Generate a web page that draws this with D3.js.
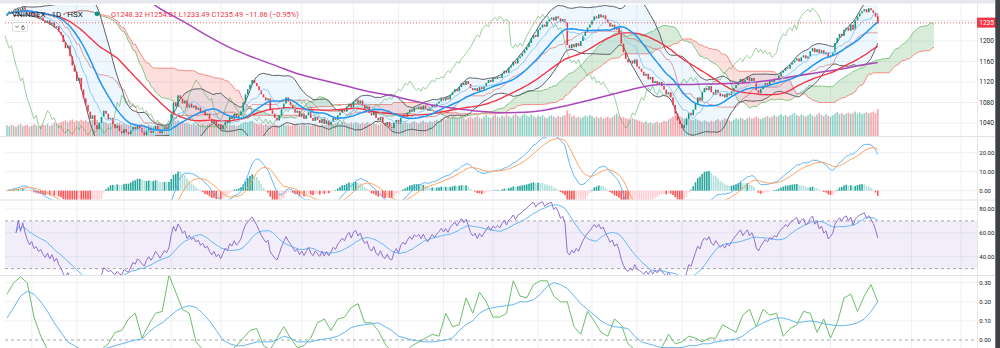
<!DOCTYPE html>
<html>
<head>
<meta charset="utf-8">
<script src="https://cdn.jsdelivr.net/npm/d3@7"></script>
<style>
  html, body { margin: 0; padding: 0; background: #fff; overflow: hidden; }
  svg { display: block; }
  text { font-family: Roboto, "Liberation Sans", "DejaVu Sans", sans-serif; }
</style>
</head>
<body>
<svg id="chart" width="1000" height="348"></svg>
<script>
// ---- Daily VNINDEX closes (HSX) ----
const closes = [
  1252,1258,1254,1260,1256,1263,1259,1266,1261,
  1256,1252,1255,1248,1250,1244,1246,1240,1236,
  1240,1232,1236,1226,1229,1218,1212,
  1198,1186,1191,1170,1152,
  1140,1122,1128,1105,1088,
  1075,1062,1048,1055,1036,1028,
  1040,1052,1064,1058,1047,1050,
  1038,1030,1035,1024,1020,1028,1022,
  1018,1025,1032,1027,1035,1030,1022,1016,1024,1029,1021,1026,1034,1028,1020,1025,1031,1027,
  1035,1058,1080,1072,1094,1088,1078,1084,1070,
  1078,1070,1074,1066,1070,1060,1064,1055,1058,1048,1040,1046,1034,1038,1028,
  1036,1045,1040,1052,1048,1058,1050,1055,1062,
  1080,1096,1106,1115,1124,1118,1112,
  1104,1096,1090,1084,1088,1065,1058,1050,1045,1055,1068,1078,1090,
  1082,1075,1068,1060,1064,1052,1058,1048,1055,1062,1050,1044,1052,1046,1040,1048,1038,1045,1036,1042,1050,1046,
  1055,1060,1066,1062,1072,1078,1070,1082,1086,1078,1084,1075,
  1068,1072,1060,1055,1062,1050,1045,1052,1040,1036,1042,1032,
  1030,1040,1046,1038,1050,1056,1052,1060,1066,1062,1070,1068,
  1072,1066,1074,1068,1064,1070,1076,1072,1078,
  1082,1088,1084,1090,1086,
  1095,1100,1106,1102,
  1110,1118,1114,1122,1116,1108,
  1104,1108,1102,1110,1106,1112,1118,
  1124,1120,1128,1126,1130,1128,
  1136,1142,1138,1148,
  1152,1160,1156,1166,1170,
  1176,1182,1188,
  1196,1205,1212,1208,1222,
  1226,1232,1228,1238,1242,
  1246,1240,1248,1244,1238,1243,1236,
  1192,
  1186,1194,1188,1196,1190,1200,
  1210,1218,1226,1232,1240,
  1248,1244,1252,1246,1250,1242,1236,
  1228,1232,1222,1226,1216,
  1195,1178,1165,1158,1162,
  1156,1164,1150,1146,
  1140,1132,1136,1125,1130,1118,1122,1115,1120,
  1112,1105,1096,1100,1090,
  1075,1058,1045,1038,1030,1036,
  1048,1060,1055,1066,
  1078,1090,1084,1100,1108,1104,
  1112,1100,1095,1105,1098,1092,
  1096,1090,1098,1094,1102,1108,
  1114,1120,1126,1118,1124,1130,1122,1128,1120,
  1104,1098,1106,1112,
  1118,1114,1122,1120,1126,1124,1132,1138,
  1142,1148,1146,1154,1158,
  1162,1166,1160,1168,1172,1166,1170,
  1180,1186,1178,1184,1176,1182,1174,1178,
  1168,1172,1178,
  1196,1206,1214,1210,1222,
  1226,1220,1232,1222,
  1240,1248,1254,
  1258,1262,1256,1264,1260,1255,1247.35,
  1235.49
];
const firstOpen = 1249;

// Session volume (million shares)
const volumes = [
  420,380,450,400,360,430,470,390,410,440,370,400,460,420,380,410,450,430,480,400,440,520,470,500,540,
  580,620,540,600,650,560,610,580,640,590,620,560,600,640,580,620,540,500,560,520,480,510,540,470,500,530,460,490,450,
  430,470,410,450,400,440,480,420,390,450,410,380,430,470,400,440,420,460,
  520,600,650,580,620,560,540,500,520,
  480,450,500,430,470,420,460,400,440,480,420,450,400,430,470,410,440,390,460,420,
  450,400,430,480,520,560,540,580,600,520,480,450,500,430,470,420,440,400,460,430,
  410,450,480,420,440,400,460,430,470,410,440,480,420,450,400,430,470,440,410,460,
  420,450,480,430,
  460,500,540,480,520,560,500,470,530,490,550,510,470,520,480,540,500,460,520,480,
  440,500,470,530,490,460,510,550,520,480,540,500,560,520,490,540,580,530,500,560,
  600,550,520,580,540,600,640,580,
  680,720,650,760,700,800,740,680,720,780,700,650,720,760,690,740,800,720,680,760,
  820,740,700,780,840,760,720,800,760,850,780,720,800,860,790,740,820,880,800,760,
  840,780,720,800,760,820,740,700,780,820,760,720,800,740,
  780,820,1000,880,760,800,720,760,700,740,800,760,820,780,720,760,700,740,680,720,
  760,700,740,820,880,780,720,760,700,680,640,700,660,620,600,
  560,520,580,500,540,480,520,560,500,
  540,600,580,650,700,760,820,900,780,720,680,740,700,650,620,680,640,600,560,620,
  580,540,600,560,620,660,600,640,700,660,620,580,640,700,660,720,680,640,700,740,
  680,720,760,700,660,
  700,740,780,720,760,820,760,800,860,780,820,760,800,860,900,820,780,840,800,760,
  820,880,800,760,840,900,820,780,860,800,760,820,880,940,860,900,840,880,920,860,
  900,960,880,920,860,900,940,880,920,960,900,1060
];

// Latest session quote
const lastBar = { open: 1248.32, high: 1254.01, low: 1233.49, close: 1235.49 };

// Bar indices where a new month starts (extends into the projected area)
const monthStarts = [11, 31, 52, 73, 95, 131, 154, 174, 194, 216, 236, 260, 280, 300, 323, 344, 366, 402, 424];

// Axis ticks
const priceTicks = [1040, 1080, 1120, 1160, 1200];
const macdTicks = [0, 10, 20];
const rsiTicks = [40, 60, 80];
const flowTicks = [0, 0.1, 0.2, 0.3];

// 200-day moving average [bar, value]
const sma200Points = [
  [0,1355],[10,1342],[20,1330],[30,1318],[40,1306],[50,1295],[60,1284],[70,1258],[80,1234],[90,1208],
  [100,1185],[110,1167],[120,1151],[130,1135],[140,1124],[150,1113],[160,1102],[170,1094],[180,1084],[190,1074],
  [200,1068],[210,1063],[220,1060],[230,1061],[240,1066],[250,1075],[260,1086],[270,1097],[280,1108],[290,1115],
  [300,1115],[310,1116],[320,1117],[330,1119],[340,1124],[350,1131],[360,1138],[370,1145],[380,1153],[387,1158]
];

// Money flow oscillator, one reading every 3 sessions, and its signal line
const flowStep = 3;
const moneyFlow = [
  0.24,0.30,0.33,0.30,0.12,0.02,-0.05,-0.10,-0.12,-0.15,
  -0.15,-0.12,-0.10,-0.08,-0.05,-0.02,0.04,0.05,0.11,0.14,
  0.01,0.08,0.14,0.15,0.34,0.25,0.16,0.14,-0.01,-0.05,
  -0.08,-0.10,-0.08,-0.06,-0.03,0.01,0.05,0.06,-0.03,-0.05,
  0.01,0.07,0.01,-0.04,-0.03,0.01,0.09,0.11,0.05,0.11,
  0.12,0.17,0.19,0.09,0.09,0.05,-0.02,-0.06,-0.07,-0.06,
  -0.03,-0.01,0.01,0.03,0.02,0.14,0.07,0.08,0.22,0.14,
  0.25,0.20,0.12,0.12,0.14,0.31,0.23,0.22,0.29,0.31,
  0.31,0.23,0.20,0.20,0.07,0.03,0.15,0.10,0.04,0.02,
  0.11,0.08,-0.02,-0.05,-0.08,-0.10,-0.08,-0.04,0.03,-0.02,
  -0.01,0.02,0.01,-0.01,0.01,0.01,0.08,0.06,0.04,0.13,
  0.16,0.07,0.16,0.13,0.14,0.02,0.06,0.08,0.15,0.14,
  0.04,0.11,0.01,0.09,0.22,0.24,0.15,0.23,0.29,0.20
];
const moneyFlowSignal = [
  0.115,0.17,0.23,0.255,0.24,0.20,0.15,0.09,0.04,-0.01,
  -0.03,-0.05,-0.06,-0.06,-0.05,-0.04,-0.03,-0.02,-0.01,0.00,
  0.005,0.04,0.07,0.09,0.12,0.15,0.17,0.18,0.17,0.14,
  0.10,0.05,0.00,-0.02,-0.03,-0.03,-0.02,-0.01,-0.01,-0.01,
  0.00,0.02,0.01,-0.01,-0.01,-0.01,0.00,0.005,0.01,0.02,
  0.04,0.065,0.075,0.08,0.085,0.09,0.07,0.05,0.02,0.01,
  0.00,-0.005,-0.01,-0.01,-0.005,0.00,0.01,0.05,0.08,0.10,
  0.14,0.16,0.17,0.175,0.18,0.185,0.20,0.20,0.21,0.24,
  0.28,0.30,0.29,0.27,0.23,0.19,0.16,0.13,0.10,0.08,
  0.07,0.065,0.06,0.02,-0.01,-0.02,-0.03,-0.04,-0.04,-0.04,
  -0.04,-0.03,-0.03,-0.02,-0.02,-0.01,-0.005,0.00,0.005,0.02,
  0.05,0.07,0.09,0.105,0.115,0.115,0.105,0.09,0.095,0.10,
  0.095,0.085,0.08,0.075,0.075,0.08,0.09,0.11,0.15,0.20
];

// ---------- derived series ----------
const N = closes.length;
const opens = closes.map((c, i) => i === 0 ? firstOpen : (i === N - 1 ? lastBar.open : closes[i - 1]));

function windowOf(a, i, n) { return a.slice(Math.max(0, i - n + 1), i + 1); }
function sma(a, n) { return a.map((_, i) => d3.mean(windowOf(a, i, n))); }
function stdev(a, n) {
  return a.map((_, i) => {
    const w = windowOf(a, i, n), m = d3.mean(w);
    return Math.sqrt(d3.mean(w, v => (v - m) * (v - m)));
  });
}
function ema(a, n) {
  const k = 2 / (n + 1); let e = a[0];
  return a.map((v, i) => i === 0 ? e : (e = v * k + e * (1 - k)));
}
function midRange(a, n) {
  return a.map((_, i) => { const w = windowOf(a, i, n); return (d3.max(w) + d3.min(w)) / 2; });
}

// Bollinger Bands (20, 2)
const basis = sma(closes, 20);
const dev = stdev(closes, 20);
const bbUpper = basis.map((b, i) => b + 2 * dev[i]);
const bbLower = basis.map((b, i) => b - 2 * dev[i]);
const sma50 = sma(closes, 50);

// Ichimoku (9, 26, 52, displacement 26)
const shift = 25;
const tenkan = midRange(closes, 9);
const kijun = midRange(closes, 26);
const spanA = tenkan.map((t, i) => (t + kijun[i]) / 2);
const spanB = midRange(closes, 52);

// MACD (12, 26, 9)
const ema12 = ema(closes, 12), ema26 = ema(closes, 26);
const macd = ema12.map((v, i) => v - ema26[i]);
const signal = ema(macd, 9);
const hist = macd.map((v, i) => v - signal[i]);

// RSI (14) with its 14-period average
const rsi = [null];
{
  let ag = 0, al = 0;
  for (let i = 1; i < N; i++) {
    const ch = closes[i] - closes[i - 1];
    const g = Math.max(ch, 0), l = Math.max(-ch, 0);
    if (i <= 14) { ag = (ag * (i - 1) + g) / i; al = (al * (i - 1) + l) / i; }
    else { ag = (ag * 13 + g) / 14; al = (al * 13 + l) / 14; }
    rsi.push(al === 0 ? 100 : 100 - 100 / (1 + ag / al));
  }
}
const rsiStart = 4;
const rsiMA = d3.range(N).map(i => i < rsiStart ? null : d3.mean(rsi.slice(Math.max(rsiStart, i - 13), i + 1)));

// ---------- layout ----------
const svg = d3.select("#chart");
const plotL = 5, plotR = 977;
const panels = {
  main: { top: 5, bottom: 136 },
  macd: { top: 137, bottom: 199.5 },
  rsi:  { top: 200.5, bottom: 275 },
  flow: { top: 276, bottom: 348 }
};

const x = d3.scaleLinear().domain([0, 431.1]).range([7, 977]);
const yP = d3.scaleLinear().domain([1040, 1200]).range([123, 41.0]);
const yV = d3.scaleLinear().domain([0, 1100]).range([136, 108]);
const yM = d3.scaleLinear().domain([0, 20]).range([190.7, 152.7]);
const yR = d3.scaleLinear().domain([40, 80]).range([256.7, 209]);
const yF = d3.scaleLinear().domain([0, 0.3]).range([340, 282.7]);

const defs = svg.append("defs");
Object.entries(panels).forEach(([k, p]) => {
  defs.append("clipPath").attr("id", "clip-" + k)
    .append("rect").attr("x", plotL).attr("y", p.top)
    .attr("width", plotR - plotL).attr("height", p.bottom - p.top);
});

const gridColor = "#edf0f4";
const grid = svg.append("g");
// vertical month lines
grid.selectAll("line.v").data(monthStarts).join("line")
  .attr("x1", d => x(d)).attr("x2", d => x(d))
  .attr("y1", 4).attr("y2", 348)
  .attr("stroke", gridColor).attr("stroke-width", 1);

function hGrid(ticks, scale) {
  grid.selectAll(null).data(ticks).join("line")
    .attr("x1", plotL).attr("x2", plotR)
    .attr("y1", d => scale(d)).attr("y2", d => scale(d))
    .attr("stroke", gridColor).attr("stroke-width", 1);
}
hGrid(priceTicks.concat([1240]), yP);
hGrid(macdTicks, yM);
hGrid(rsiTicks, yR);
hGrid(flowTicks.slice(1), yF);

// panel separators and price-axis edge
svg.append("g").selectAll("line").data([136.5, 200, 275.5]).join("line")
  .attr("x1", 0).attr("x2", 995).attr("y1", d => d).attr("y2", d => d)
  .attr("stroke", "#dfe2e8").attr("stroke-width", 1);
svg.append("line").attr("x1", plotR + 0.5).attr("x2", plotR + 0.5).attr("y1", 4).attr("y2", 348)
  .attr("stroke", "#e3e6eb");

const idx = d3.range(N);

// ---------- main panel ----------
const main = svg.append("g").attr("clip-path", "url(#clip-main)");

// volume
const upCol = "#089981", dnCol = "#f23645";
main.append("g").selectAll("rect").data(idx).join("rect")
  .attr("x", i => x(i) - 0.8).attr("width", 1.6)
  .attr("y", i => yV(volumes[i])).attr("height", i => yV(0) - yV(volumes[i]))
  .attr("fill", i => closes[i] >= opens[i] ? "rgba(8,153,129,0.45)" : "rgba(242,54,69,0.45)");

// Ichimoku cloud (projected forward)
main.append("path").datum(idx)
  .attr("d", d3.area().x(i => x(i + shift)).y0(i => yP(spanB[i])).y1(i => yP(Math.max(spanA[i], spanB[i]))))
  .attr("fill", "rgba(67,160,71,0.2)");
main.append("path").datum(idx)
  .attr("d", d3.area().x(i => x(i + shift)).y0(i => yP(spanA[i])).y1(i => yP(Math.max(spanA[i], spanB[i]))))
  .attr("fill", "rgba(244,67,54,0.17)");
const lineOf = (arr, sc, off = 0) => d3.line().x(i => x(i + off)).y(i => sc(arr[i]));
main.append("path").datum(idx).attr("d", lineOf(spanA, yP, shift))
  .attr("fill", "none").attr("stroke", "#81c784").attr("stroke-width", 1);
main.append("path").datum(idx).attr("d", lineOf(spanB, yP, shift))
  .attr("fill", "none").attr("stroke", "#f28b82").attr("stroke-width", 1);

// Bollinger band fill and edges
const bbIdx = idx.slice(3);
main.append("path").datum(bbIdx)
  .attr("d", d3.area().x(i => x(i)).y0(i => yP(bbLower[i])).y1(i => yP(bbUpper[i])))
  .attr("fill", "rgba(33,150,243,0.08)");
main.append("path").datum(bbIdx).attr("d", lineOf(bbUpper, yP))
  .attr("fill", "none").attr("stroke", "#5d6066").attr("stroke-width", 1);
main.append("path").datum(bbIdx).attr("d", lineOf(bbLower, yP))
  .attr("fill", "none").attr("stroke", "#5d6066").attr("stroke-width", 1);

// lagging span
main.append("path").datum(idx).attr("d", lineOf(closes, yP, -shift))
  .attr("fill", "none").attr("stroke", "rgba(67,160,71,0.5)").attr("stroke-width", 1);

// candles
const candles = main.append("g");
candles.selectAll("rect").data(idx).join("rect")
  .attr("x", i => x(i) - 0.8).attr("width", 1.6)
  .attr("y", i => yP(Math.max(opens[i], closes[i])))
  .attr("height", i => Math.max(0.9, Math.abs(yP(opens[i]) - yP(closes[i]))))
  .attr("fill", i => closes[i] >= opens[i] ? upCol : dnCol);
candles.append("line")
  .attr("x1", x(N - 1)).attr("x2", x(N - 1))
  .attr("y1", yP(lastBar.high)).attr("y2", yP(lastBar.low))
  .attr("stroke", dnCol).attr("stroke-width", 0.8);

// moving averages
main.append("path").datum(sma200Points)
  .attr("d", d3.line().curve(d3.curveMonotoneX).x(d => x(d[0])).y(d => yP(d[1])))
  .attr("fill", "none").attr("stroke", "#ab47bc").attr("stroke-width", 1.5);
main.append("path").datum(idx).attr("d", lineOf(sma50, yP))
  .attr("fill", "none").attr("stroke", "#f23645").attr("stroke-width", 1.4);
main.append("path").datum(idx).attr("d", lineOf(kijun, yP))
  .attr("fill", "none").attr("stroke", "rgba(183,28,28,0.4)").attr("stroke-width", 1);
main.append("path").datum(idx).attr("d", lineOf(tenkan, yP))
  .attr("fill", "none").attr("stroke", "#90caf9").attr("stroke-width", 1);
main.append("path").datum(idx).attr("d", lineOf(basis, yP))
  .attr("fill", "none").attr("stroke", "#2196f3").attr("stroke-width", 1.5);

// last price line
main.append("line").attr("x1", plotL).attr("x2", plotR)
  .attr("y1", yP(lastBar.close)).attr("y2", yP(lastBar.close))
  .attr("stroke", "#f23645").attr("stroke-width", 0.8).attr("stroke-dasharray", "1,2");

// ---------- MACD panel ----------
const mp = svg.append("g").attr("clip-path", "url(#clip-macd)");
mp.append("g").selectAll("rect").data(idx).join("rect")
  .attr("x", i => x(i) - 0.8).attr("width", 1.6)
  .attr("y", i => yM(Math.max(0, hist[i])))
  .attr("height", i => Math.abs(yM(hist[i]) - yM(0)))
  .attr("fill", i => {
    const prev = i > 0 ? hist[i - 1] : hist[i];
    if (hist[i] >= 0) return hist[i] >= prev ? "#26a69a" : "#b2dfdb";
    return hist[i] < prev ? "#ff5252" : "#ffcdd2";
  });
mp.append("path").datum(idx).attr("d", lineOf(macd, yM))
  .attr("fill", "none").attr("stroke", "#64b5f6").attr("stroke-width", 1);
mp.append("path").datum(idx).attr("d", lineOf(signal, yM))
  .attr("fill", "none").attr("stroke", "#ffa260").attr("stroke-width", 1);

// ---------- RSI panel ----------
const rp = svg.append("g").attr("clip-path", "url(#clip-rsi)");
rp.append("rect").attr("x", plotL).attr("width", plotR - plotL)
  .attr("y", yR(70)).attr("height", yR(30) - yR(70))
  .attr("fill", "rgba(126,87,194,0.1)");
rp.selectAll("line.band").data([70, 30]).join("line")
  .attr("x1", plotL).attr("x2", plotR).attr("y1", d => yR(d)).attr("y2", d => yR(d))
  .attr("stroke", "#a3a6af").attr("stroke-dasharray", "3,3");
const rIdx = idx.slice(rsiStart);
rp.append("path").datum(rIdx).attr("d", lineOf(rsiMA, yR))
  .attr("fill", "none").attr("stroke", "#64b5f6").attr("stroke-width", 1);
rp.append("path").datum(rIdx).attr("d", lineOf(rsi, yR))
  .attr("fill", "none").attr("stroke", "#8e6fd0").attr("stroke-width", 1);

// ---------- money flow panel ----------
const fp = svg.append("g").attr("clip-path", "url(#clip-flow)");
fp.append("line").attr("x1", plotL).attr("x2", plotR).attr("y1", yF(0)).attr("y2", yF(0))
  .attr("stroke", "#a3a6af").attr("stroke-dasharray", "3,3");
const fLine = arr => d3.line().x((d, k) => x(k * flowStep)).y(d => yF(d))(arr);
fp.append("path").attr("d", fLine(moneyFlowSignal))
  .attr("fill", "none").attr("stroke", "#64b5f6").attr("stroke-width", 1);
fp.append("path").attr("d", fLine(moneyFlow))
  .attr("fill", "none").attr("stroke", "#6cbf6a").attr("stroke-width", 1);

// ---------- right price scales ----------
const axisG = svg.append("g").attr("fill", "#131722");
function axisLabels(ticks, scale, fmt, size) {
  axisG.append("g").attr("font-size", size).selectAll("text").data(ticks).join("text")
    .attr("x", 979.3).attr("y", d => scale(d) + 2.3).text(fmt);
}
axisLabels(priceTicks, yP, d3.format("d"), 6.5);
axisLabels(macdTicks, yM, d3.format(".2f"), 6);
axisLabels(rsiTicks, yR, d3.format(".2f"), 6);
axisLabels(flowTicks, yF, d3.format(".2f"), 6);

// last price tag
svg.append("rect").attr("x", 977).attr("y", yP(lastBar.close) - 5.2)
  .attr("width", 19).attr("height", 10).attr("fill", "#f23645");
svg.append("text").attr("x", 979.3).attr("y", yP(lastBar.close) + 2.4)
  .attr("font-size", 6.5).attr("fill", "#fff").text(d3.format(".0f")(lastBar.close));

// ---------- legend ----------
const prevClose = closes[N - 2];
const chg = lastBar.close - prevClose;
const f2 = d3.format(".2f");
svg.append("text").attr("x", 12).attr("y", 17).attr("font-size", 8).attr("fill", "#131722")
  .text("VNINDEX · 1D · HSX");
svg.append("circle").attr("cx", 97).attr("cy", 13.8).attr("r", 2.4).attr("fill", "#089981");
svg.append("text").attr("x", 111).attr("y", 17).attr("font-size", 7.4).attr("fill", "#f23645")
  .text(`O${f2(lastBar.open)} H${f2(lastBar.high)} L${f2(lastBar.low)} C${f2(lastBar.close)} ${f2(chg)} (${f2(chg / prevClose * 100)}%)`);
const tog = svg.append("g");
tog.append("rect").attr("x", 12.5).attr("y", 22.5).attr("width", 15).attr("height", 9).attr("rx", 2)
  .attr("fill", "rgba(255,255,255,0.85)").attr("stroke", "#d1d4dc").attr("stroke-width", 0.8);
tog.append("path").attr("d", "M15.3,25.8 L17,27.6 L18.7,25.8")
  .attr("fill", "none").attr("stroke", "#555").attr("stroke-width", 0.8);
tog.append("text").attr("x", 21).attr("y", 29.6).attr("font-size", 7).attr("fill", "#555").text("6");

// window chrome: top strip and right edge
svg.append("rect").attr("x", 0).attr("y", 0).attr("width", 995).attr("height", 3.5).attr("fill", "#e6e7ec");
svg.append("rect").attr("x", 995.3).attr("y", 0).attr("width", 4.7).attr("height", 348).attr("fill", "#3f4145");
</script>
</body>
</html>
